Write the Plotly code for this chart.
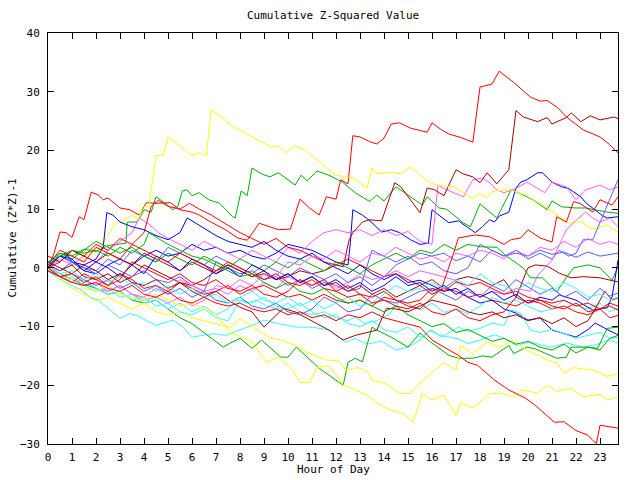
import plotly.graph_objects as go

# ---- colours (gnuplot-like palette) ----
RED = "#ff0000"
GREEN = "#00b000"
BLUE = "#0000ff"
MAGENTA = "#ff5cff"
CYAN = "#30ffff"
DARKRED = "#a80000"
YELLOW = "#ffff00"
SLATE = "#5c5cff"

# ---- series: (hour, cumulative value) ----
red_top = [(0,0),(0.25,2.5),(0.5,6.1),(0.75,6.0),(1.0,5.2),(1.3,8.7),(1.5,8.2),(1.8,12.9),(2.1,12.4),(2.3,11.6),(2.5,11.9),(3.0,10.2),(3.4,9.9),(3.8,9.0),(4.1,11.1),(4.5,11.0),(5.1,11.1),(5.5,9.9),(6.0,9.5),(6.3,9.0),(6.7,8.0),(7.4,6.5),(7.9,5.1),(8.3,4.7),(8.8,7.6),(9.2,7.0),(9.6,6.5),(10.1,6.6),(10.5,11.7),(10.9,10.2),(11.3,9.0),(11.6,12.1),(12.0,11.7),(12.2,15.0),(12.5,14.3),(12.7,22.5),(13.0,22.3),(13.4,21.5),(13.7,21.1),(14.0,22.1),(14.3,24.5),(14.65,24.7),(15.1,23.8),(15.5,23.4),(15.8,23.1),(16.0,24.7),(16.4,23.5),(16.7,22.8),(17.2,22.2),(17.7,21.4),(18.0,30.8),(18.5,31.3),(18.8,33.5),(19.4,31.6),(20.1,29.1),(20.5,28.4),(20.8,28.5),(21.2,27.4),(21.6,25.7),(22.3,23.5),(23.0,22.3),(23.4,21.0),(23.75,19.6)]

darkred_top = [(0,0.5),(0.5,-0.5),(1,0.5),(1.5,-1.5),(2,-2.0),(2.5,-1.0),(3,-2.5),(3.5,-1.5),(4,0.5),(4.5,-0.5),(5,-1.5),(5.5,-2.5),(6,-3.0),(6.5,-2.0),(7,-0.5),(7.5,0.5),(8,-0.5),(8.5,-1.5),(9,-1.0),(9.5,-2.0),(10,-1.5),(10.5,-0.5),(11,-1.0),(11.5,-0.5),(12,0.5),(12.3,0.2),(12.55,4.8),(12.7,6.0),(13.1,7.8),(13.4,8.2),(13.9,8.0),(14.45,14.5),(14.7,13.8),(15.5,9.4),(15.8,13.6),(16.1,13.3),(16.5,12.3),(17.0,16.7),(17.3,16.0),(17.7,15.5),(18.0,14.5),(18.3,16.2),(18.7,14.3),(19.2,16.7),(19.5,26.8),(19.8,25.7),(20.4,24.9),(20.8,25.6),(21.0,24.5),(21.6,25.6),(21.8,26.4),(22.2,24.9),(22.6,25.9),(23.0,25.2),(23.6,25.7),(23.75,25.4)]

yellow_top = [(0,0),(0.5,-1.5),(1.0,-0.5),(1.5,1.5),(1.75,3.0),(2.0,2.5),(2.45,5.3),(2.85,7.8),(3.1,7.9),(3.5,9.0),(3.75,8.2),(3.95,10.4),(4.2,10.4),(4.5,19.1),(4.8,19.2),(5.0,22.2),(5.6,20.5),(6.0,19.1),(6.3,19.6),(6.6,19.1),(6.8,26.9),(7.4,25.1),(7.6,24.3),(8.2,23.0),(8.8,21.8),(9.3,20.6),(9.6,20.8),(9.9,19.6),(10.3,20.8),(10.7,20.1),(11.6,17.0),(12.0,15.8),(12.7,15.3),(13.3,13.6),(13.5,17.0),(13.7,16.0),(14.2,16.3),(14.7,16.0),(15.1,17.2),(15.9,14.5),(16.3,14.0),(16.9,13.8),(17.7,11.8),(18.0,12.6),(18.3,12.0),(18.5,13.0),(19.2,13.4),(19.9,12.4),(20.8,10.2),(21.2,9.0),(21.7,7.6),(22.2,7.9),(22.7,6.5),(23.3,7.3),(23.75,6.1)]

green_top = [(0,0),(0.5,2.5),(1,2.0),(1.5,3.2),(2,2.8),(2.5,3.8),(3.25,4.2),(3.3,7.8),(3.7,7.8),(3.85,8.7),(4.0,9.9),(4.3,9.5),(4.5,12.1),(4.85,11.1),(5.2,9.9),(5.4,10.4),(5.6,13.1),(5.8,13.3),(6.0,12.3),(6.3,12.8),(6.7,11.6),(7.15,11.0),(7.7,8.7),(7.8,8.5),(8.05,13.1),(8.3,12.3),(8.5,17.0),(8.95,15.9),(9.25,15.5),(9.6,16.2),(10.3,14.1),(10.55,15.8),(10.8,14.8),(11.2,16.5),(11.7,15.8),(12.3,14.5),(12.8,12.8),(13.4,11.3),(13.7,12.4),(14.0,11.4),(14.5,13.8),(15.1,12.1),(15.6,10.7),(15.8,12.1),(16.3,10.2),(16.6,10.0),(17.3,7.7),(17.6,7.0),(18.0,10.9),(18.7,8.5),(18.95,10.4),(19.3,13.3),(19.7,12.6),(20.2,11.6),(20.8,9.9),(21.0,11.4),(21.4,10.4),(22.0,10.2),(22.4,10.2),(23.3,9.5),(23.75,9.3)]

blue_jump = [(0,0.5),(0.5,2.0),(1,1.0),(1.5,-0.5),(2,-1.0),(2.5,0.5),(3,1.5),(3.5,0.5),(4,2.0),(4.5,3.0),(5,2.0),(5.5,2.5),(6,4.0),(6.5,3.0),(7,3.5),(7.5,2.5),(8,3.0),(8.5,2.0),(9,1.5),(9.5,2.5),(10,4.0),(10.5,3.5),(11,3.0),(11.5,2.0),(12,1.0),(12.5,0.5),(12.6,4.3),(12.7,9.9),(13.1,9.0),(13.5,7.7),(13.9,6.1),(14.3,6.5),(14.65,6.0),(15.1,4.8),(15.5,4.0),(15.85,4.2),(16.0,9.9),(16.5,8.3),(16.7,7.7),(17.1,8.0),(17.55,6.8),(17.8,6.0),(18.1,7.0),(18.4,8.2),(18.6,7.8),(18.8,8.8),(19.2,9.5),(19.5,13.6),(19.7,14.6),(19.95,15.0),(20.4,16.2),(20.6,16.2),(21.0,14.6),(21.4,13.8),(21.7,13.5),(22.2,12.1),(22.4,11.1),(22.7,10.2),(23.1,8.9),(23.3,8.5),(23.75,8.7)]

red_late = [(0,0),(0.5,-1.5),(1,-2.5),(1.5,-1.0),(2,-2.0),(2.5,-3.0),(3,-1.0),(3.5,-2.0),(4,-3.5),(4.5,-3.0),(5,-4.0),(5.5,-2.5),(6,-3.5),(6.5,-4.5),(7,-4.0),(7.5,-3.0),(8,-4.5),(8.5,-3.5),(9,-3.0),(9.5,-4.0),(10,-5.0),(10.5,-4.5),(11,-5.5),(11.5,-4.5),(12,-5.5),(12.5,-6.0),(13,-5.5),(13.5,-6.5),(14,-5.0),(14.5,-5.5),(15,-6.5),(15.5,-7.0),(16,-5.0),(16.4,-3.5),(16.9,2.5),(17.1,5.1),(17.8,5.6),(18.4,5.3),(19.0,4.0),(19.3,4.8),(19.7,5.1),(20.0,6.5),(20.5,5.1),(21.0,4.4),(21.2,8.7),(21.6,7.8),(21.9,11.3),(22.2,10.9),(22.7,9.5),(23.0,11.6),(23.5,10.7),(23.75,12.1)]

magenta_top = [(0,0),(0.5,1.5),(1,0.5),(1.5,2),(2,1),(2.5,3),(3,4.5),(3.5,6),(3.8,8.5),(4.2,7.5),(4.6,6),(5,5),(5.5,4),(6,3),(6.5,4.5),(7,3.5),(7.5,2.5),(8,1.5),(8.5,3),(9,2),(9.5,1),(10,3.5),(10.5,2.5),(11,4.5),(11.5,6),(12,6.5),(12.5,6.0),(13,6.5),(13.5,5.5),(14,6.5),(14.5,5.5),(15,6.2),(15.5,4.5),(16,4.0),(16.25,14.1),(16.5,13.5),(16.9,12.8),(17.3,12.1),(17.7,15.0),(18.1,15.3),(18.4,14.5),(18.7,13.3),(19.0,12.8),(19.5,13.5),(19.95,14.6),(20.3,13.8),(20.7,12.8),(21.0,14.6),(21.6,13.8),(22.0,11.6),(22.4,13.3),(23.0,14.1),(23.4,13.3),(23.75,13.8)]

green_low = [(0,0),(0.5,-1.0),(1.0,-2.0),(1.5,-2.8),(2.0,-3.5),(2.5,-4.5),(3.0,-4.0),(3.5,-5.5),(4.0,-6.0),(4.5,-5.5),(5.0,-7.0),(5.5,-8.5),(6.0,-9.5),(6.5,-11.0),(7.0,-12.5),(7.3,-13.5),(7.6,-12.8),(8.0,-12.0),(8.5,-13.7),(8.9,-12.3),(9.7,-15.2),(10.0,-15.2),(10.35,-13.5),(11.3,-17.1),(12.3,-20.0),(12.5,-16.1),(12.8,-15.4),(13.1,-16.0),(13.5,-10.1),(13.7,-10.6),(14.3,-11.8),(15.0,-13.5),(15.5,-11.1),(15.9,-12.5),(16.7,-14.9),(17.1,-15.4),(17.7,-15.4),(18.1,-15.0),(18.5,-15.2),(19.2,-13.2),(19.4,-14.6),(19.95,-13.5),(20.3,-13.8),(21.2,-15.4),(21.6,-15.2),(21.8,-13.5),(22.5,-13.5),(22.9,-13.7),(23.3,-10.3),(23.75,-10.1)]

cyan_low = [(0,-0.5),(0.5,-2),(1.0,-3),(1.4,-3.8),(1.75,-5.0),(2.1,-5.5),(2.45,-6.7),(3.0,-8.6),(3.4,-7.8),(3.7,-8.1),(4.1,-9.0),(4.5,-9.8),(5.2,-8.9),(5.6,-10.0),(6.0,-11.8),(6.5,-11.5),(6.9,-11.2),(7.4,-11.5),(8.0,-10.6),(8.5,-9.8),(9.0,-8.9),(9.6,-9.5),(10.35,-10.1),(11.0,-10.1),(11.75,-10.6),(12.4,-12.7),(12.8,-12.0),(13.3,-13.0),(13.9,-12.5),(14.5,-14.0),(15.0,-13.5),(15.5,-12.3),(15.9,-10.6),(16.3,-11.5),(17.1,-12.1),(17.5,-12.9),(18.0,-12.3),(18.6,-11.4),(19.0,-12.0),(19.5,-13.2),(20.1,-12.6),(20.6,-13.2),(21.0,-13.5),(21.6,-12.8),(22.3,-13.5),(22.9,-13.0),(23.4,-12.3),(23.75,-12.8)]

red_bottom = [(0,0),(0.5,-1.5),(1,-2.5),(1.5,-3.0),(2,-2.5),(2.5,-3.5),(3,-4.0),(3.5,-3.0),(4,-4.5),(4.5,-5.0),(5,-4.0),(5.5,-5.5),(6,-6.0),(6.5,-5.0),(7,-6.0),(7.5,-6.5),(8,-6.0),(8.5,-7.0),(9,-7.5),(9.5,-7.0),(10,-8.0),(10.5,-7.5),(11,-8.5),(11.5,-8.0),(12,-9.0),(12.5,-8.0),(13,-8.5),(13.5,-7.5),(14,-8.5),(14.5,-9.0),(15,-9.5),(15.5,-10.1),(16.0,-12.3),(16.6,-13.7),(17.1,-14.9),(17.5,-16.1),(17.9,-16.6),(18.6,-19.1),(19.2,-20.8),(19.9,-22.2),(20.3,-23.4),(21.1,-26.3),(21.5,-26.2),(22.0,-27.7),(22.5,-28.5),(22.7,-29.4),(22.85,-29.9),(23.0,-26.8),(23.3,-27.0),(23.75,-27.3)]

yellow_a = [(0,0),(0.5,-2.0),(1.0,-3.5),(1.5,-4.5),(2.0,-5.6),(2.5,-5.0),(3.0,-6.0),(3.5,-7.0),(4.0,-6.0),(4.5,-7.5),(5.0,-8.0),(5.5,-7.5),(6.0,-8.5),(6.5,-9.0),(7.0,-9.5),(7.6,-10.1),(8.0,-8.6),(8.5,-10.0),(9.2,-11.8),(9.7,-12.3),(10.3,-13.2),(10.9,-14.6),(11.6,-15.7),(12.1,-15.8),(12.4,-17.4),(12.9,-17.0),(13.3,-17.6),(13.5,-19.1),(14.1,-19.8),(14.65,-21.4),(15.1,-21.4),(15.3,-20.4),(15.5,-19.6),(16.0,-17.8),(16.5,-16.2),(17.0,-17.4),(17.2,-13.2),(17.7,-14.6),(18.3,-12.6),(18.8,-13.5),(19.4,-12.3),(19.9,-13.9),(20.8,-15.7),(21.2,-16.2),(21.5,-17.9),(21.9,-17.0),(22.7,-17.4),(23.3,-18.5),(23.75,-18.0)]

yellow_b = [(0,0),(0.5,-1.5),(1,-2.0),(1.5,-3.5),(2,-4.0),(2.5,-3.0),(3,-4.5),(3.5,-5.0),(4,-5.5),(4.5,-4.5),(5,-5.5),(5.5,-6.5),(6,-6.0),(6.5,-7.0),(7,-8.0),(7.6,-11.0),(8.5,-12.5),(9.1,-16.1),(9.6,-15.2),(10.2,-17.4),(10.5,-19.5),(10.9,-19.5),(11.2,-17.0),(11.7,-16.6),(12.3,-19.9),(12.9,-21.0),(13.3,-21.7),(13.7,-23.0),(14.25,-24.2),(14.8,-24.8),(15.2,-26.3),(15.4,-24.0),(15.6,-21.4),(16.0,-22.5),(16.5,-21.7),(17.0,-25.1),(17.2,-22.9),(17.7,-23.9),(18.4,-21.4),(18.9,-21.4),(19.4,-22.0),(19.7,-20.8),(20.4,-21.3),(20.8,-20.0),(21.2,-21.0),(21.8,-20.5),(22.3,-22.0),(23.0,-21.5),(23.3,-22.5),(23.75,-22.0)]

slate_rise = [(0,0.5),(0.5,-0.5),(1,1.0),(1.5,0),(2,-1.0),(2.5,0.5),(3,-0.5),(3.5,-1.5),(4,-0.5),(4.5,-2.0),(5,-2.5),(5.5,-1.5),(6,-3.0),(6.5,-4.0),(7,1.0),(7.5,0.0),(8,-1.0),(8.5,-0.5),(9,-2.0),(9.5,-1.5),(10,-3.0),(10.5,-2.0),(11,-3.5),(11.5,-2.5),(12,-3.0),(12.5,-4.0),(13,-3.5),(13.5,3.0),(14,2.0),(14.5,1.0),(15,2.0),(15.5,0.5),(16,1.0),(16.5,-0.5),(17,-1.0),(17.5,0.0),(18,4.0),(18.5,3.0),(19,2.0),(19.5,3.0),(20,1.5),(20.5,2.5),(21,1.5),(21.3,3.0),(21.7,2.0),(22.0,2.5),(22.3,4.8),(22.7,4.8),(23.0,7.7),(23.3,10.4),(23.75,15.0)]

slate_mid = [(0,1.0),(0.5,2.0),(1,1.0),(1.5,0.0),(2,-0.5),(2.5,1.5),(3,0.5),(3.5,3.0),(4,2.0),(4.5,1.0),(5,3.5),(5.5,2.5),(6,1.5),(6.5,0.5),(7,2.0),(7.5,1.0),(8,0.0),(8.5,-1.0),(9,0.5),(9.5,-0.5),(10,-1.5),(10.5,0.0),(11,-1.0),(11.5,-2.0),(12,-1.0),(12.5,-2.5),(13,-1.5),(13.5,-3.0),(14,-1.5),(14.5,0.5),(15,1.5),(15.5,2.5),(16,2.0),(16.5,2.5),(17,1.2),(17.5,2.0),(18,1.0),(18.5,3.0),(19,2.0),(19.5,2.5),(20,2.0),(20.5,3.0),(21,2.3),(21.5,2.7),(22,1.8),(22.5,2.7),(23,2.0),(23.4,2.3),(23.75,2.5)]

magenta_b = [(0,0.5),(0.5,-1),(1,-2),(1.5,-3),(2,-2.5),(2.5,-4),(3,-3),(3.5,-4.5),(4,-5),(4.5,-3.5),(5,-4.5),(5.5,-2),(6,-3),(6.5,-4),(7,-3.5),(7.5,-4.5),(8,-3),(8.5,-4),(9,-2.5),(9.5,-3.5),(10,-1.5),(10.5,-2.5),(11,-3),(11.5,-2),(12,-3.5),(12.5,-2.5),(13,-1),(13.5,-2),(14,-1.5),(14.5,-0.5),(15,-1.5),(15.5,-0.5),(16,-1),(16.5,-1.5),(16.9,-2),(17.5,-3.5),(18,-5),(18.5,-4),(19,-4.5),(19.5,-3.5),(20.1,-4.0),(20.4,-1.3),(21.0,1.3),(21.6,6.5),(22,8.1),(22.4,9.5),(22.7,8.5),(23,7.8),(23.4,8.5),(23.75,7.0)]

blue_end_jump = [(0,0),(0.5,2),(1,1.5),(1.5,-0.5),(2,1),(2.5,0),(3,-1.5),(3.5,0.5),(4,-1),(4.5,2),(5,1),(5.5,-0.5),(6,1.5),(6.5,0.5),(7,-1),(7.5,0),(8,-1.5),(8.5,0.5),(9,-0.5),(9.5,-2),(10,-1),(10.5,-2.5),(11,-1.5),(11.5,-3),(12,-2),(12.5,-3.5),(13,-2.5),(13.5,-4),(14,-3),(14.5,-1.5),(15,-3),(15.5,-2.5),(16,-4),(16.5,-3),(17,-4.5),(17.5,-3.5),(18,-5),(18.5,-4),(19,-5.5),(19.5,-4.5),(20,-6),(20.5,-5),(21,-5.5),(21.3,-4.6),(22.0,-5.5),(22.7,-7.2),(23.3,-6.8),(23.5,-5.0),(23.75,1.3)]

green_mid = [(0,1),(0.5,2.5),(1,1.5),(1.5,3),(2,4.5),(2.5,3.5),(3,2.5),(3.5,3.5),(4,2),(4.5,1),(5,2.5),(5.5,1.5),(6,0.5),(6.5,2),(7,1),(7.5,0),(8,1.5),(8.5,0.5),(9,-0.5),(9.5,1),(10,0),(10.5,1.5),(11,0.5),(11.5,-0.5),(12,1),(12.5,0),(13,-1),(13.5,0.5),(14,1.5),(14.5,2.5),(15,1.5),(15.5,3.0),(16,2.5),(16.5,4.0),(17,3.0),(17.5,4.0),(18,3.6),(18.7,3.5),(19.1,2.0),(19.8,0.0),(20.1,-1.7),(20.6,-1.7),(21.2,-4.1),(21.6,-1.6),(21.9,0.0),(22.5,0.5),(23.0,0.0),(23.5,-2.1),(23.75,0.2)]

darkred_mid = [(0,2),(0.5,1),(1,3),(1.5,2),(2,1),(2.5,2.5),(3,1.5),(3.5,0.5),(4,2.5),(4.5,1.5),(5,0.5),(5.5,-0.5),(6,1.0),(6.5,0.0),(7,-1.0),(7.5,0.5),(8,-0.5),(8.5,-1.5),(9,-0.5),(9.5,-2.0),(10,-1.0),(10.5,-2.5),(11,-1.5),(11.5,-3.0),(12,-2.5),(12.5,-4.0),(13,-3.0),(13.5,-4.5),(14,-3.5),(14.5,-5.0),(15,-4.0),(15.5,-3.0),(16,-4.5),(16.5,-3.5),(17,-2.0),(17.5,-1.5),(18,-2.0),(18.5,-3.0),(19,-2.0),(19.5,-5.0),(20,0.0),(20.3,0.5),(20.8,0.3),(21.3,-0.9),(21.8,-1.7),(22.3,-1.5),(23.0,-1.7),(23.75,-2.4)]

darkred_low = [(0,1),(0.5,0),(1,-1),(1.5,0.5),(2,-0.5),(2.5,-2),(3,-1),(3.5,-2.5),(4,-3),(4.5,-2),(5,-3.5),(5.5,-2.5),(6,-4),(6.5,-5),(7,-4),(7.5,-5.5),(8,-6.7),(8.5,-7.5),(9.0,-10.1),(9.8,-6.9),(10.3,-7.5),(11.7,-10.6),(12.3,-12.3),(12.8,-11.5),(13.3,-11.0),(13.7,-10.6),(14.1,-6.9),(14.5,-7.0),(15,-7.5),(15.5,-6.5),(16,-5.5),(16.5,-6.0),(17,-6.5),(17.5,-7.5),(18,-8.0),(18.5,-7.5),(19,-8.5),(19.5,-8.0),(20,-9.0),(20.5,-8.5),(21,-9.5),(21.5,-8.5),(22,-10.0),(22.5,-9.0),(22.8,-7.0),(23.2,-4.0),(23.5,-5.5),(23.75,-5.1)]

cyan_mid = [(0,-0.5),(0.5,-2),(1,-1.5),(1.5,-3),(2,-4),(2.5,-3.5),(3,-5),(3.5,-4.5),(4,-6),(4.5,-5.5),(5,-7),(5.5,-6),(6,-7.5),(6.5,-6.5),(7,-8),(7.5,-7.0),(7.9,-5.5),(8.3,-6.0),(8.7,-5.5),(9.1,-6.5),(9.6,-7.0),(10.0,-6.0),(10.5,-7.5),(11.0,-8.0),(11.5,-7.5),(12.0,-8.5),(12.5,-9.0),(12.8,-8.4),(13.2,-9.5),(13.7,-9.0),(14.2,-8.0),(14.7,-5.5),(15.2,-6.5),(15.5,-7.2),(16.0,-6.0),(16.5,-7.6),(17.0,-7.0),(17.5,-7.8),(18.0,-6.5),(18.5,-5.0),(19.0,-6.0),(19.5,-5.5),(20.0,-6.5),(20.5,-7.5),(21.0,-7.0),(21.5,-5.5),(22.0,-6.5),(22.5,-7.0),(23.0,-6.0),(23.4,-7.5),(23.75,-6.8)]

red_mid = [(0,0.5),(0.5,3),(1,2),(1.5,1),(2,3.5),(2.5,2.5),(3,1.5),(3.5,4.0),(4,3.0),(4.5,2.0),(5,1.0),(5.5,2.5),(6,1.5),(6.5,0.5),(7,-0.5),(7.5,1.0),(8,0.0),(8.5,-1.0),(9,-2.0),(9.5,-1.0),(10,-2.5),(10.5,-3.0),(11,-2.0),(11.5,-3.5),(12,-4.0),(12.5,-3.0),(13,-4.5),(13.5,-5.0),(14,-4.0),(14.5,-5.5),(15,-6.0),(15.5,-5.5),(16,-3.5),(16.5,-4.0),(17,-2.4),(17.5,-3.0),(18,-2.5),(18.5,-3.5),(19,-4.5),(19.5,-4.0),(20,-5.0),(20.5,-5.5),(21,-6.0),(21.5,-5.5),(22,-6.5),(22.5,-6.0),(23,-7.0),(23.4,-6.5),(23.75,-7.2)]

red_low = [(0,-0.5),(0.5,-1.5),(1,-1),(1.5,-2.5),(2,-1.5),(2.5,-3),(3,-2),(3.5,1),(4,0),(4.5,-1),(5,-2),(5.5,-1),(6,-2.5),(6.5,-3),(7,-2),(7.5,-3.5),(8,-4),(8.5,-3),(9,-4.5),(9.5,-5),(10,-4),(10.5,-2.0),(11,-3.0),(11.5,-2.0),(12,-4.0),(12.5,-5.0),(13,-4.5),(13.5,-6.0),(14,-5.5),(14.5,-6.5),(15,-7.0),(15.5,-6.0),(16,-7.5),(16.5,-8.0),(17,-7.0),(17.5,-8.5),(18,-9.0),(18.5,-8.0),(19,-7.5),(19.5,-5.0),(20,-6.0),(20.5,-5.5),(21,-6.5),(21.5,-7.0),(22,-6.0),(22.5,-7.5),(23,-7.0),(23.4,-8.5),(23.75,-8.1)]

blue_down = [(0,0),(0.5,2),(0.75,2.5),(1.0,1.0),(1.5,0.5),(2.0,1.5),(2.3,3.5),(2.45,9.4),(2.7,9.0),(3.0,7.8),(3.5,7.0),(4.0,6.5),(4.5,5.5),(5.0,4.8),(5.5,6.0),(5.8,8.5),(6.2,7.5),(6.6,6.5),(7.0,5.5),(7.5,4.5),(8,4.0),(8.5,3.5),(9,4.5),(9.5,3),(10,2),(10.5,1.5),(11,2.5),(11.5,1.0),(12,0),(12.5,-1),(13,0.5),(13.5,-1),(14,-2),(14.5,-1),(15,-2.5),(15.5,-2.1),(16,-3),(16.5,-4),(17,-3.5),(17.5,-5),(18,-6),(18.5,-5.5),(19,-7),(19.5,-7.7),(20,-8.9),(20.5,-8.5),(21,-10.6),(21.5,-11.2),(22,-11.8),(22.5,-10.5),(22.8,-9.4),(23.3,-10.5),(23.75,-11.4)]

cyan_b = [(0,0),(0.5,-1),(1,-2.5),(1.5,-2),(2,-3.5),(2.5,-4.5),(3,-4),(3.5,-5.5),(4,-5),(4.5,-6.5),(5,-6),(5.5,-7.5),(6,-8),(6.5,-7),(7,-8.5),(7.5,-9),(8,-5.5),(8.5,-6.0),(9,-5.0),(9.5,-6.5),(10,-7.0),(10.5,-6.0),(11,-7.5),(11.5,-8.5),(12,-8.0),(12.5,-9.5),(13,-10.0),(13.5,-9.0),(14,-10.5),(14.5,-11.0),(15,-10.0),(15.5,-11.8),(16,-10.6),(16.4,-11.8),(17.1,-10.1),(17.5,-10.8),(18.0,-10.3),(18.5,-9.4),(19.0,-9.8),(19.3,-7.2),(19.7,-7.7),(20.1,-10.6),(20.5,-11.0),(21.0,-10.5),(21.5,-11.2),(22.0,-12.0),(22.5,-11.5),(23.0,-11.0),(23.4,-12.0),(23.75,-11.8)]

slate_low = [(0,-0.5),(0.5,-1.5),(1,-1),(1.5,-2),(2,-3),(2.5,-2),(3,-3.5),(3.5,-2.5),(4,-4),(4.5,-3),(5,-4.5),(5.5,-3.5),(6,-5),(6.5,-4),(7,-5.5),(7.5,-6),(8,-5),(8.5,-6.5),(9,-7),(9.5,-6),(10,-7.5),(10.5,-8),(11,-7),(11.5,-5),(12,-6),(12.5,-7.5),(13,-7),(13.5,-4.5),(14,-5.5),(14.5,-6),(15,-5),(15.5,-4),(16,-3.5),(16.5,-4.5),(17,-5.5),(17.5,-4.0),(18,-5.0),(18.5,-3.0),(19,-4.0),(19.5,-2.0),(19.9,-3.0),(20.5,-4.5),(21.0,-3.5),(21.5,-5.0),(22.0,-4.0),(22.5,-5.5),(23.0,-3.5),(23.4,-4.8),(23.75,-4.3)]

magenta_c = [(0,0),(0.5,-1.5),(1,-2.5),(1.5,-2),(2,-3.5),(2.5,-4.0),(3,-3.0),(3.5,-4.5),(4,-5.5),(4.5,-5.0),(5,-6.0),(5.5,-5.0),(6,-6.5),(6.5,-5.5),(7,-3.0),(7.5,-3.5),(8,-2.0),(8.5,-3.0),(9,-1.0),(9.5,-1.5),(10,1.0),(10.5,0.5),(11,2.0),(11.5,1.5),(12,3.0),(12.5,2.0),(13,1.0),(13.5,2.5),(14,2.0),(14.5,3.5),(15,2.5),(15.5,1.5),(16,2.0),(16.5,1.0),(17,2.5),(17.5,2.0),(18,3.0),(18.5,2.5),(19,1.5),(19.5,3.0),(20,2.0),(20.5,3.5),(21,3.0),(21.5,4.5),(22,3.5),(22.5,5.0),(23,4.0),(23.4,4.5),(23.75,4.0)]

cyan_c = [(0,0),(0.5,-1),(1,-0.5),(1.5,-2),(2,-1),(2.5,-2.5),(3,-1.5),(3.5,-3),(4,-2.5),(4.5,-4),(5,-3),(5.5,-4.5),(6,-3.5),(6.5,-5),(7,-4.5),(7.5,-6),(8,-5),(8.5,-4),(9,-5.5),(9.5,-6),(10,-5),(10.5,-6.5),(11,-5.5),(11.5,-7),(12,-6.0),(12.5,-5.0),(13,-6.5),(13.5,-6.0),(14,-4.5),(14.5,-3.0),(15,-4.0),(15.5,-3.5),(16,-2.5),(16.5,-3.5),(17,-2.0),(17.5,-3.0),(18,-1.0),(18.5,-2.5),(19,-3.0),(19.5,-4.0),(20,-2.5),(20.5,-3.5),(21,-4.0),(21.5,-2.5),(22,-3.5),(22.5,-5.0),(23,-4.5),(23.4,-5.5),(23.75,-5.0)]

red_upper = [(0,0),(0.5,1),(1,3),(1.5,2),(2,4.0),(2.5,3.0),(3,5.0),(3.5,4.0),(4,6.0),(4.3,10.5),(4.6,11.5),(5.0,10.5),(5.5,10.0),(5.9,11.0),(6.3,10.0),(6.8,9.0),(7.2,8.0),(7.6,7.0),(8.0,6.0),(8.5,5.0),(9,4.0),(9.5,5.0),(10,3.5),(10.5,3.0),(11,2.0),(11.5,1.0),(12,0.5),(12.5,1.5),(13,0.5),(13.5,-0.5),(14,-1.5),(14.5,-1.0),(15,-2.0),(15.5,-3.0),(16,-2.0),(16.5,-3.5),(17,-4.0),(17.5,-5.0),(18,-4.5),(18.5,-5.5),(19,-6.0),(19.5,-6.5),(20,-5.5),(20.5,-6.0),(21,-7.0),(21.5,-6.5),(22,-7.5),(22.5,-8.0),(23,-7.0),(23.4,-6.0),(23.75,-6.5)]

green_b = [(0,0.5),(0.5,2.0),(1,3.0),(1.5,2.5),(2,3.0),(2.5,2.0),(3,3.5),(3.5,2.5),(4,4.0),(4.2,6.0),(4.6,5.0),(5,4.0),(5.5,3.0),(6,2.0),(6.5,1.5),(7,0.5),(7.5,-0.5),(8,-1.5),(8.5,-1.0),(9,-2.5),(9.5,-3.5),(10,-2.5),(10.5,-4.0),(11,-4.5),(11.5,-3.5),(12,-5.0),(12.5,-6.0),(13,-5.5),(13.5,-6.5),(14,-7.5),(14.5,-6.5),(15,-8.0),(15.5,-9.0),(16,-10.0),(16.5,-9.5),(17,-11.0),(17.5,-10.5),(18,-11.5),(18.5,-12.5),(19,-12.0),(19.5,-13.0),(20,-12.5),(20.5,-13.5),(21,-14.0),(21.5,-13.0),(22,-14.5),(22.5,-13.5),(23,-14.0),(23.4,-12.0),(23.75,-11.5)]

series_list = [
    (red_top, RED), (green_top, GREEN), (blue_jump, BLUE), (magenta_top, MAGENTA),
    (cyan_low, CYAN), (darkred_top, DARKRED), (yellow_top, YELLOW), (slate_rise, SLATE),
    (red_upper, RED), (green_low, GREEN), (blue_down, BLUE), (magenta_b, MAGENTA),
    (cyan_mid, CYAN), (darkred_mid, DARKRED), (yellow_a, YELLOW), (slate_mid, SLATE),
    (red_late, RED), (green_mid, GREEN), (blue_end_jump, BLUE), (magenta_c, MAGENTA),
    (cyan_b, CYAN), (darkred_low, DARKRED), (yellow_b, YELLOW), (slate_low, SLATE),
    (red_mid, RED), (green_b, GREEN), (cyan_c, CYAN), (red_low, RED), (red_bottom, RED),
]

fig = go.Figure()
for pts, col in series_list:
    fig.add_trace(go.Scatter(
        x=[p[0] for p in pts], y=[p[1] for p in pts], mode="lines",
        line=dict(color=col, width=1), showlegend=False, hoverinfo="skip"))

FONT = "DejaVu Sans Mono"
axis_common = dict(showline=True, linecolor="black", linewidth=1, mirror="ticks",
                   ticks="inside", ticklen=6, tickcolor="black", tickwidth=1,
                   showgrid=False, zeroline=False,
                   tickfont=dict(family=FONT, size=11, color="black"))

fig.update_layout(
    width=640, height=480,
    margin=dict(l=48, r=22, t=33, b=36),
    paper_bgcolor="white", plot_bgcolor="white",
    xaxis=dict(range=[0, 23.75], tick0=0, dtick=1, ticklabelstandoff=3, **axis_common),
    yaxis=dict(range=[-30, 40], tick0=-30, dtick=10, ticklabelstandoff=5, **axis_common),
    annotations=[
        dict(text="Cumulative Z-Squared Value", xref="paper", yref="paper",
             x=0.5, y=(444 - 16) / 411, showarrow=False, xanchor="center", yanchor="middle",
             font=dict(family=FONT, size=11, color="black")),
        dict(text="Hour of Day", xref="paper", yref="paper",
             x=0.5, y=(444 - 470) / 411, showarrow=False, xanchor="center", yanchor="middle",
             font=dict(family=FONT, size=11, color="black")),
        dict(text="Cumulative (Z*Z)-1", xref="paper", yref="paper",
             x=(12 - 48) / 570, y=0.5, showarrow=False, textangle=-90,
             xanchor="center", yanchor="middle",
             font=dict(family=FONT, size=11, color="black")),
    ],
)

fig.write_html("out.html")
